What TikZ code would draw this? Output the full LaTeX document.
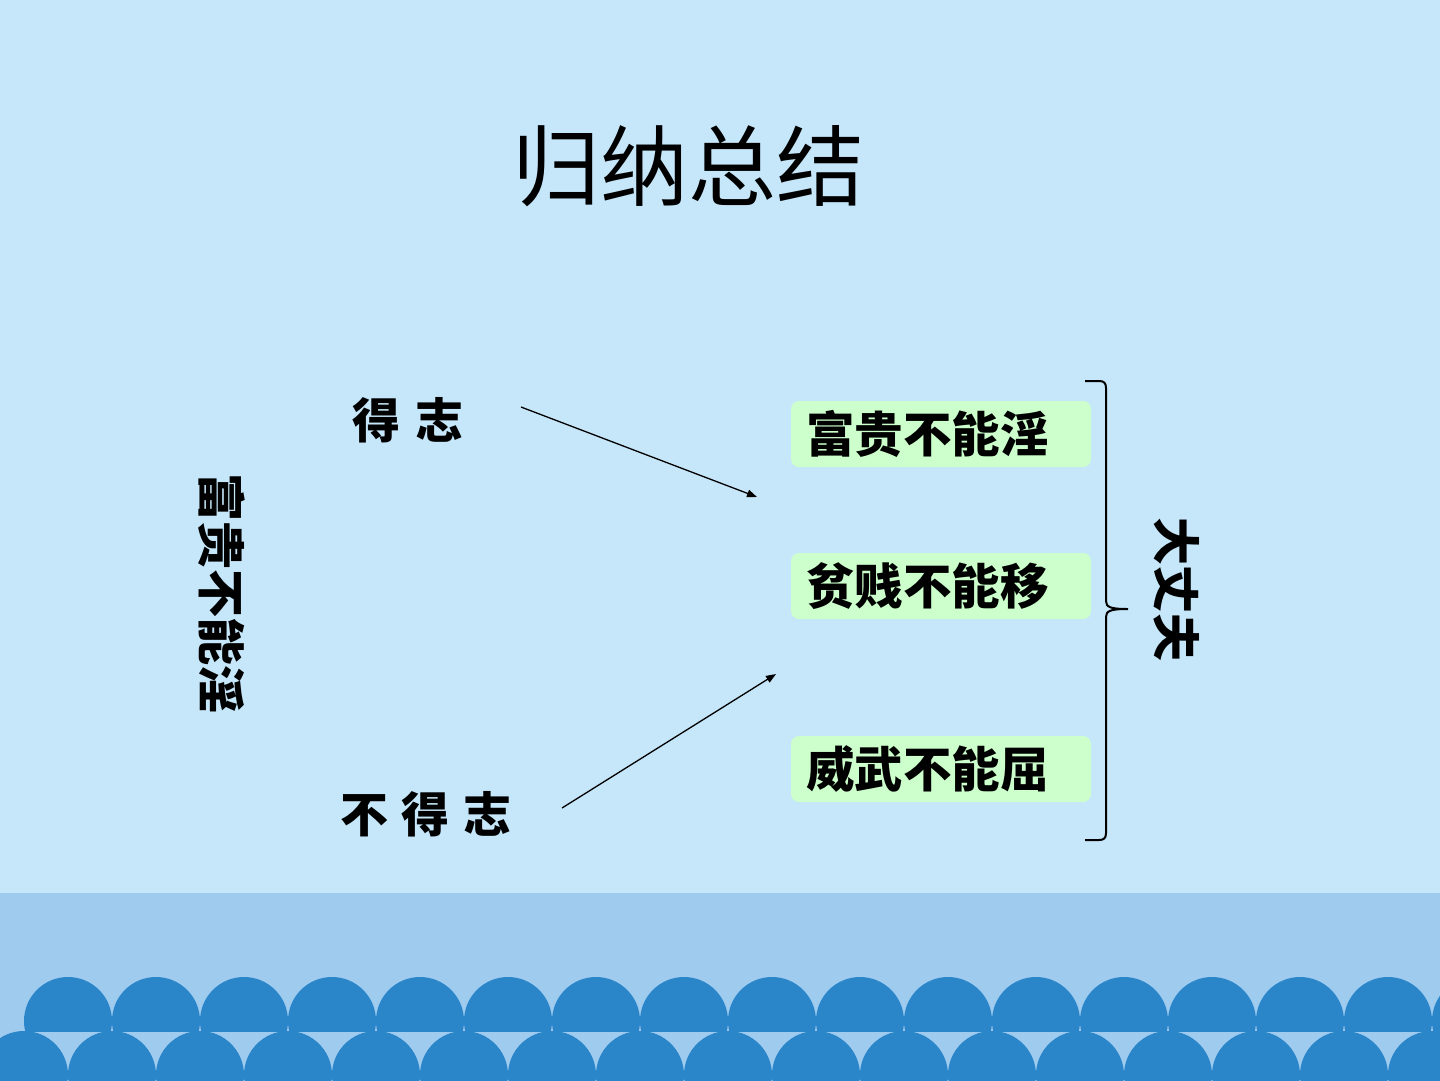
\documentclass[tikz,border=0pt]{standalone}
\usepackage{fontspec}
\newfontfamily\cjk{Noto Sans CJK SC}
\usetikzlibrary{arrows.meta}
\definecolor{skytop}{HTML}{C6E7FA}
\definecolor{skyband}{HTML}{9FCBEF}
\definecolor{wavec}{HTML}{2A86C9}
\definecolor{boxgreen}{HTML}{CCFFCC}
\tikzset{
  greenbox/.style={fill=boxgreen, rounded corners=8pt, minimum width=300pt, minimum height=66pt, inner sep=0pt, text width=270pt, align=left, font=\cjk\bfseries\fontsize{48.5pt}{52pt}\selectfont},
  lbl/.style={inner sep=0pt, font=\cjk\bfseries\fontsize{48pt}{52pt}\selectfont},
  conn/.style={line width=1.3pt, -{Triangle[length=10pt,width=7.5pt]}},
  brace/.style={line width=2pt}
}
\begin{document}
\begin{tikzpicture}[x=1pt,y=-1pt]
\useasboundingbox (0,0) rectangle (1440,1080);
% background
\fill[skytop] (0,0) rectangle (1440,893);
\fill[skyband] (0,893) rectangle (1440,1080);
% waves
\begin{scope}
  \clip (0,0) rectangle (1440,1031);
  \foreach \k in {0,...,16} {
    \fill[wavec] (68+88*\k,1021) circle[radius=44];
  }
\end{scope}
\begin{scope}
  \clip (0,1031) rectangle (1440,1080);
  \foreach \k in {0,...,17} {
    \fill[wavec] (24+88*\k,1075) circle[radius=44];
  }
\end{scope}
% title
\node[inner sep=0pt, font=\cjk\fontsize{88pt}{96pt}\selectfont] (title) at (688,166) {归纳总结};
% labels
\node[lbl] (dezhi) at (408,420) {得\hspace{16pt}志};
\node[lbl] (budezhi) at (426,814) {不\hspace{14pt}得\hspace{14pt}志};
\node[lbl, rotate=-90] (leftv) at (222,593) {富贵不能淫};
\node[lbl, rotate=-90] (dzf) at (1177,589) {大丈夫};
% boxes
\node[greenbox] (b1) at (941,434) {富贵不能淫};
\node[greenbox] (b2) at (941,586) {贫贱不能移};
\node[greenbox] (b3) at (941,769) {威武不能屈};
% arrows
\coordinate (a1s) at (521,407);
\coordinate (a1e) at (757,497);
\coordinate (a2s) at (562,808);
\coordinate (a2e) at (776,674);
\draw[conn] (a1s) -- (a1e);
\draw[conn] (a2s) -- (a2e);
% brace
\draw[brace] (1085,381) -- (1099,381) .. controls (1104,381) and (1106,383) .. (1106,388)
  -- (1106,601) .. controls (1106,607) and (1110,609) .. (1128,609)
  .. controls (1110,609) and (1106,611) .. (1106,617)
  -- (1106,833) .. controls (1106,838) and (1104,840) .. (1099,840) -- (1085,840);
\end{tikzpicture}
\end{document}
